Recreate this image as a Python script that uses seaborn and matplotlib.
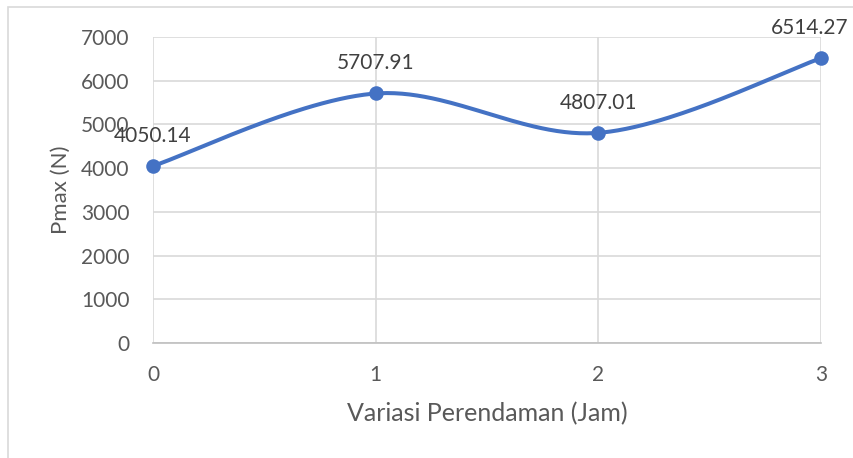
import numpy as np
import pandas as pd
import matplotlib
matplotlib.use("Agg")
import matplotlib.pyplot as plt
from matplotlib.patches import Rectangle
import seaborn as sns

# Soaking duration (hours) and peak load
hours = [0, 1, 2, 3]
pmax = [4050.14, 5707.91, 4807.01, 6514.27]
value_labels = ["4050.14", "5707.91", "4807.01", "6514.27"]
y_ticks = [0, 1000, 2000, 3000, 4000, 5000, 6000, 7000]
x_ticks = [0, 1, 2, 3]

BLUE = "#4472C4"
TEXT = "#595959"
GRID = "#D9D9D9"
FS = 15

sns.set_theme(style="white")
plt.rcParams["font.family"] = ["Lato", "DejaVu Sans"]


def smooth_curve(xs, ys, n=60):
    """Bezier smoothing through the points (spreadsheet-style smoothed line)."""
    pts = np.column_stack([xs, ys]).astype(float)
    out = []
    for i in range(len(pts) - 1):
        p0 = pts[i - 1] if i > 0 else pts[i]
        p1, p2 = pts[i], pts[i + 1]
        p3 = pts[i + 2] if i + 2 < len(pts) else pts[i + 1]
        c1 = p1 + (p2 - p0) / 6.0
        c2 = p2 - (p3 - p1) / 6.0
        t = np.linspace(0, 1, n)[:, None]
        seg = ((1 - t) ** 3) * p1 + 3 * ((1 - t) ** 2) * t * c1 + 3 * (1 - t) * t ** 2 * c2 + t ** 3 * p2
        out.append(seg if i == 0 else seg[1:])
    seg = np.vstack(out)
    return seg[:, 0], seg[:, 1]


df = pd.DataFrame({"hours": hours, "pmax": pmax})
sx, sy = smooth_curve(hours, pmax)
curve = pd.DataFrame({"hours": sx, "pmax": sy})

fig = plt.figure(figsize=(8.54, 4.58), dpi=100)
ax = fig.add_axes([153 / 854, 1 - 343 / 458, (821 - 153) / 854, (343 - 37) / 458])

sns.lineplot(data=curve, x="hours", y="pmax", ax=ax, color=BLUE, linewidth=2.9,
             sort=False, estimator=None, clip_on=False, zorder=3)
sns.scatterplot(data=df, x="hours", y="pmax", ax=ax, color=BLUE, s=110,
                edgecolor=BLUE, linewidth=0, clip_on=False, zorder=4)

for i, (x, y, lab) in enumerate(zip(hours, pmax, value_labels)):
    last = i == len(hours) - 1
    # keep the last label inside the chart frame
    ax.annotate(lab, (x, y), xytext=(19.5 if last else 0, 17.5),
                textcoords="offset points",
                ha="right" if last else "center", va="baseline",
                fontsize=FS, color="#404040", annotation_clip=False, zorder=5)

ax.set_xlim(0, 3)
ax.set_ylim(0, 7000)
ax.set_xticks(x_ticks)
ax.set_yticks(y_ticks)
ax.set_xticklabels([str(v) for v in x_ticks])
ax.set_yticklabels([str(v) for v in y_ticks])
ax.grid(True, color=GRID, linewidth=1.2)
ax.set_axisbelow(True)
for name, sp in ax.spines.items():
    sp.set_visible(name == "bottom")
ax.spines["bottom"].set_color("#BFBFBF")
ax.spines["bottom"].set_linewidth(1.2)
ax.tick_params(axis="both", length=0, labelsize=FS, labelcolor=TEXT)
ax.tick_params(axis="x", pad=16)
ax.tick_params(axis="y", pad=17)

ax.set_xlabel("Variasi Perendaman (Jam)", fontsize=18, color=TEXT, labelpad=12)
ax.set_ylabel("Pmax (N)", fontsize=16, color=TEXT, va="center")
ax.yaxis.set_label_coords(-92 / 668, 0.5)

# chart border
fig.patches.append(Rectangle((8 / 854, -0.1), 1.2, 1 - 7 / 458 + 0.1,
                             transform=fig.transFigure, fill=False,
                             edgecolor="#D9D9D9", linewidth=1.2, zorder=0))

fig.savefig("out.png", dpi=100, facecolor="white")
